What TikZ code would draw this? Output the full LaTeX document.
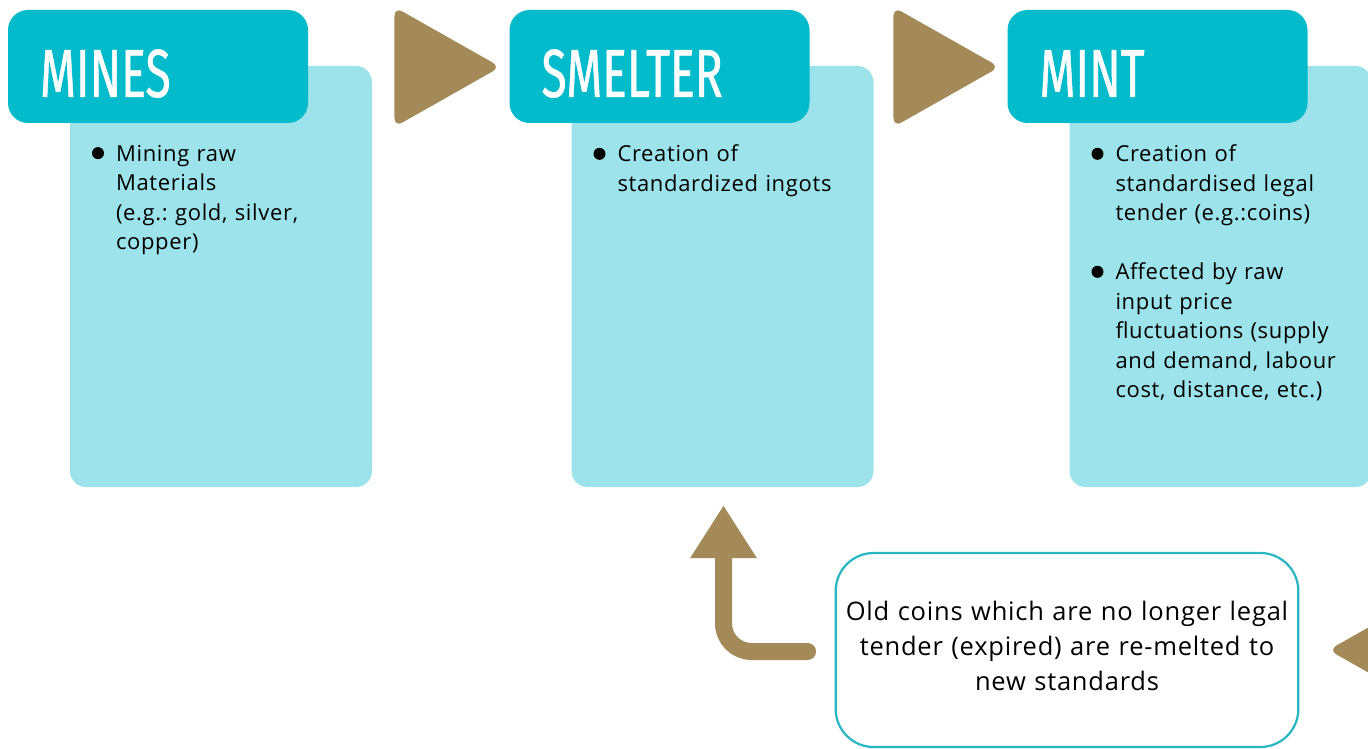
\documentclass[tikz,border=0pt]{standalone}
\usepackage{fontspec}
\setmainfont[LetterSpace=3]{Open Sans}
\newfontfamily\headfont[FakeStretch=0.68,FakeBold=0.7]{Fira Sans}
\usepackage{xcolor}
\usetikzlibrary{arrows.meta,positioning,calc,shapes.geometric}
\definecolor{headcyan}{RGB}{3,187,203}
\definecolor{bodycyan}{RGB}{156,227,235}
\definecolor{goldbrown}{RGB}{163,138,88}
\definecolor{framecyan}{RGB}{41,182,195}
\frenchspacing
\newcommand{\bulletitem}[1]{\hangindent=24pt\hangafter=1\noindent\makebox[24pt][l]{\tikz[baseline={(0,-8pt)}]\fill (6pt,0) circle (6pt);}#1\par}

\begin{document}
\begin{tikzpicture}[x=1pt,y=1pt,
  head/.style={fill=headcyan,rounded corners=20pt,minimum width=300pt,minimum height=113pt,
    text width=236pt,inner xsep=32pt,align=left,text=white,text height=61pt,text depth=0pt,
    font=\headfont\fontsize{68}{68}\selectfont},
  bodybox/.style={fill=bodycyan,rounded corners=16pt,minimum width=302pt,minimum height=421pt,inner sep=0pt},
  bodytext/.style={anchor=north west,text width=270pt,align=left,inner sep=0pt,
    font=\fontsize{22}{29.5}\selectfont},
  flowtri/.style={isosceles triangle,isosceles triangle stretches,fill=goldbrown,rounded corners=9pt,
    minimum height=106pt,minimum width=120pt,inner sep=0pt,anchor=apex}]
\clip (0,0) rectangle (1368,-749);
% columns
\foreach \n/\t/\x in {mines/MINES/158,smelter/SMELTER/659.5,mint/MINT/1157.5}{
  \node[bodybox] (\n-body) at (\x+63,-276.5) {};
  \node[head] (\n) at (\x,-66.5) {\t};
}
\node[bodytext] (minestext) at ([xshift=22pt,yshift=-79pt]mines-body.north west)
  {\bulletitem{Mining raw\newline Materials\newline (e.g.: gold, silver,\newline copper)}};
\node[bodytext] (smeltertext) at ([xshift=22pt,yshift=-79pt]smelter-body.north west)
  {\bulletitem{Creation of\newline standardized ingots}};
\node[bodytext] (minttext) at ([xshift=22pt,yshift=-79pt]mint-body.north west)
  {\bulletitem{Creation of\newline standardised legal\newline tender (e.g.:coins)}
   \vskip29.5pt
   \bulletitem{Affected by raw\newline input price\newline fluctuations (supply\newline and demand, labour\newline cost, distance, etc.)}};
% arrows
\node[flowtri] (arrA) at (501,-67) {};
\node[flowtri] (arrB) at (1000,-67) {};
\node[flowtri,shape border rotate=180] (arrC) at (1328,-650) {};
% recycling
\node[draw=framecyan,line width=2.2pt,fill=white,rounded corners=38pt,minimum width=462pt,
  minimum height=194pt,text width=456pt,align=center,text depth=78pt,font=\fontsize{25.5}{35}\selectfont]
  (oldcoins) at (1067,-650) {Old coins which are no longer legal\\ tender (expired) are re-melted to\\ new standards};
\draw[goldbrown,line width=17pt,line cap=round,rounded corners=28pt,-{Triangle[width=63pt,length=53pt]}]
  ([xshift=-27pt,yshift=-1.5pt]oldcoins.west) -| ([xshift=1pt,yshift=-18pt]smelter-body.south);
\end{tikzpicture}
\end{document}
